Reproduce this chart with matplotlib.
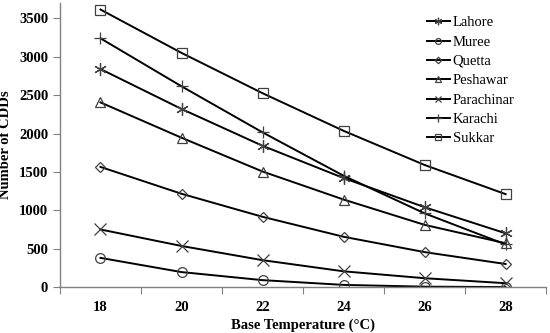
import matplotlib
matplotlib.use("Agg")
import matplotlib.pyplot as plt
from matplotlib.ticker import MultipleLocator, FixedLocator

base_temp = [18, 20, 22, 24, 26, 28]
lahore = [2840, 2320, 1840, 1420, 1040, 700]
muree = [380, 195, 90, 28, 5, 0]
quetta = [1565, 1215, 915, 655, 455, 300]
peshawar = [2405, 1945, 1505, 1140, 810, 570]
parachinar = [750, 535, 350, 205, 115, 50]
karachi = [3240, 2615, 2015, 1450, 960, 555]
sukkar = [3615, 3050, 2525, 2035, 1590, 1210]

series = [
    ("Lahore", lahore, (6, 2, 0), 9),
    ("Muree", muree, "o", 7),
    ("Quetta", quetta, "D", 5.5),
    ("Peshawar", peshawar, "^", 7),
    ("Parachinar", parachinar, "x", 8),
    ("Karachi", karachi, "+", 9),
    ("Sukkar", sukkar, "s", 7),
]

plt.rcParams["font.family"] = ["Liberation Serif", "DejaVu Serif"]

fig = plt.figure(figsize=(5.5, 3.33), dpi=100)
ax = fig.add_axes([0.109, 0.138, 0.884, 0.853])

for name, vals, mk, ms in series:
    ax.plot(base_temp, vals, color="black", lw=1.4, marker=mk, ms=ms,
            mfc="none", mec="#404040", mew=0.9, label=name)

ax.set_xlim(17, 29)
ax.set_ylim(0, 3700)
# category-style axis: tick marks between categories, labels on them
ax.xaxis.set_major_locator(FixedLocator([17, 19, 21, 23, 25, 27, 29]))
ax.tick_params(axis="x", which="major", labelbottom=False, length=5,
               direction="out", color="#808080")
ax.set_xticks(base_temp, [str(t) for t in base_temp], minor=True)
ax.tick_params(axis="x", which="minor", length=0, pad=10)
ax.yaxis.set_major_locator(MultipleLocator(500))
ax.tick_params(axis="y", length=5, direction="out", color="#808080")

for lab in ax.get_xticklabels(minor=True) + ax.get_yticklabels():
    lab.set_fontweight("bold")
    lab.set_fontsize(10.5)

for side in ("top", "right"):
    ax.spines[side].set_visible(False)
for side in ("left", "bottom"):
    ax.spines[side].set_color("#808080")
    ax.spines[side].set_linewidth(1.0)

ax.set_xlabel("Base Temperature (°C)", fontweight="bold", fontsize=10.5, labelpad=3)
ax.set_ylabel("Number of CDDs", fontweight="bold", fontsize=10.5, labelpad=1)
ax.yaxis.set_label_coords(-0.098, 0.5)

ax.legend(loc="upper left", bbox_to_anchor=(0.727, 1.0), frameon=False,
          fontsize=10.5, handlelength=1.6, handletextpad=0.2,
          labelspacing=0.42, markerscale=0.6)

fig.savefig("out.png", dpi=100)
